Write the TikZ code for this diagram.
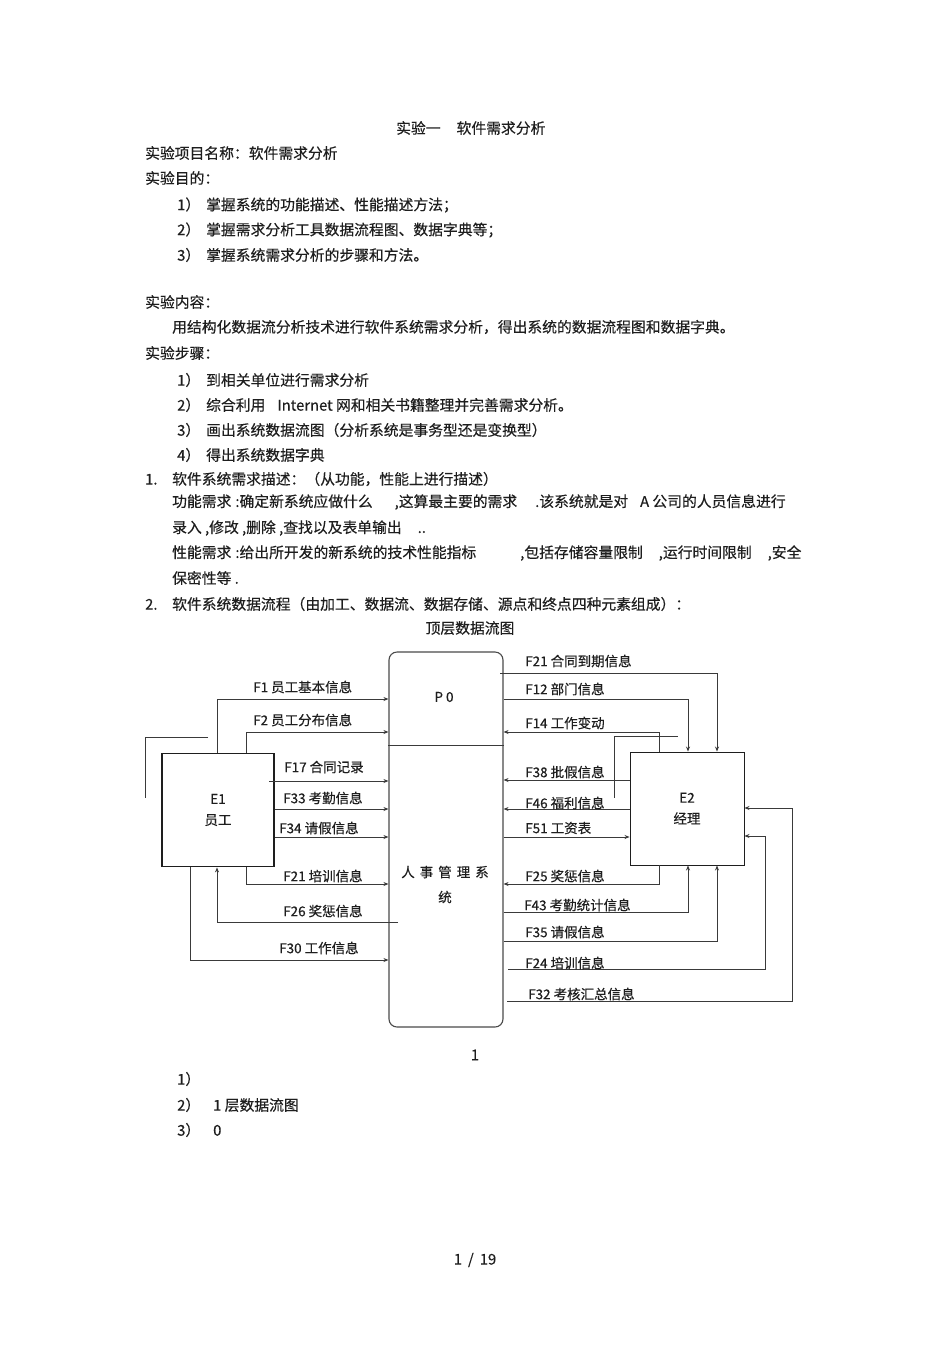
\documentclass[tikz,border=0pt]{standalone}
\usepackage{fontspec}
\setmainfont{Noto Sans CJK SC}[FakeBold=0.35]
\usepackage{tikz}
\usepackage{xcolor}
\usetikzlibrary{arrows.meta, positioning}
\definecolor{cink}{HTML}{1E1E1E}
\definecolor{cline}{HTML}{3A3A3A}
\definecolor{cbox}{HTML}{4A4A4A}
\newcommand{\itemno}[2][29pt]{\makebox[#1][l]{#2}}
\tikzset{
  txt/.style={anchor=west, inner sep=0pt, text=cink,
    font=\fontsize{14.8}{17}\selectfont},
  lbl/.style={anchor=west, inner sep=0pt, text=cink,
    font=\fontsize{13.5}{16}\selectfont},
  ent/.style={draw=cink, line width=#1,
    minimum width=112pt, minimum height=113pt,
    align=center, text=cink, font=\fontsize{13.5}{21}\selectfont},
  proc/.style={draw=cbox, rounded corners=8pt, line width=1.1pt,
    minimum width=114pt, minimum height=375pt},
  arr/.style={-{Stealth[length=5pt,width=4pt]},
    line width=1pt, color=cline},
  wire/.style={line width=1pt, color=cline},
}

\begin{document}
\begin{tikzpicture}[x=1pt, y=-1pt]

\fill[white] (0,0) rectangle (950,1345);
\useasboundingbox (0,0) rectangle (950,1345);

%% ── HEADER ────────────────────────────────────────────────
\node[txt] (title) at (396,128) {实验一\hspace{16pt}软件需求分析};
\node[txt] (pname) at (145,153) {实验项目名称：软件需求分析};
\node[txt] (aim)   at (145,178) {实验目的：};
\node[txt] (aimA)  at (177,205) {\itemno{1）}掌握系统的功能描述、性能描述方法；};
\node[txt] (aimB)  at (177,230) {\itemno{2）}掌握需求分析工具数据流程图、数据字典等；};
\node[txt] (aimC)  at (177,255) {\itemno{3）}掌握系统需求分析的步骤和方法。};

%% ── CONTENT / STEPS ───────────────────────────────────────
\node[txt] (cont)  at (145,302) {实验内容：};
\node[txt] (contB) at (172,327)
  {用结构化数据流分析技术进行软件系统需求分析，得出系统的数据流程图和数据字典。};
\node[txt] (steps) at (145,353) {实验步骤：};
\node[txt] (stepA) at (177,380) {\itemno{1）}到相关单位进行需求分析};
\node[txt] (stepB) at (177,405)
  {\itemno{2）}综合利用\hspace{12pt}Internet 网和相关书籍整理并完善需求分析。};
\node[txt] (stepC) at (177,430) {\itemno{3）}画出系统数据流图（分析系统是事务型还是变换型）};
\node[txt] (stepD) at (177,455) {\itemno{4）}得出系统数据字典};

%% ── REQUIREMENTS ──────────────────────────────────────────
\node[txt] (req)   at (145,479) {\itemno[27pt]{1.}软件系统需求描述：（从功能，性能上进行描述）};
\node[txt] (funA)  at (172,502) {功能需求\hspace{4pt}:确定新系统应做什么\hspace{22pt},这算最主要的需求\hspace{18pt}.该系统就是对\hspace{12pt}A 公司的人员信息进行};
\node[txt] (funB)  at (172,528) {录入 ,修改 ,删除 ,查找以及表单输出\hspace{16pt}..};
\node[txt] (perfA) at (172,553) {性能需求\hspace{4pt}:给出所开发的新系统的技术性能指标\hspace{44pt},包括存储容量限制\hspace{16pt},运行时间限制\hspace{16pt},安全};
\node[txt] (perfB) at (172,578) {保密性等 .};
\node[txt] (dfd)   at (145,604) {\itemno[27pt]{2.}软件系统数据流程（由加工、数据流、数据存储、源点和终点四种元素组成）：};
\node[txt, anchor=center] (dfdT) at (470,628) {顶层数据流图};

%% ── DIAGRAM BOXES ─────────────────────────────────────────
\node[ent=1.8pt] (e1) at (218,810) {E1\\员工};
\node[ent=0.9pt, minimum width=114pt] (e2) at (687,808.5) {E2\\经理};
\node[proc] (p0) at (446,839.5) {};
\coordinate (yDiv) at (0,745);
\draw[wire] (p0.west |- yDiv) -- (p0.east |- yDiv);
\node[lbl, anchor=center] (p0id) at (444,697) {P\hspace{3pt}0};
\node[lbl, anchor=center, align=center, font=\fontsize{13.5}{25}\selectfont]
  (p0name) at (445,884.5) {人\hspace{5pt}事\hspace{5pt}管\hspace{5pt}理\hspace{5pt}系\\统};

% stacked outlines behind the entities
\draw[wire] ([xshift=47pt,yshift=15pt]e1.north west)
  -| ([xshift=-16pt,yshift=-45pt]e1.north west);
\draw[wire] ([xshift=48pt,yshift=15pt]e2.north west)
  -| ([xshift=-15pt,yshift=-46pt]e2.north west);

%% ── FLOW ROWS AND COLUMNS ─────────────────────────────────
\coordinate (yF1)  at (0,699);
\coordinate (yF2)  at (0,732);
\coordinate (yF33) at (0,809);
\coordinate (yF34) at (0,837);
\coordinate (yF21) at (0,884);
\coordinate (yF30) at (0,960);
\coordinate (yR12) at (0,699);
\coordinate (yR14) at (0,732);
\coordinate (yR38) at (0,780);
\coordinate (yR46) at (0,809);
\coordinate (yR51) at (0,837);
\coordinate (yR25) at (0,884);
\coordinate (yR43) at (0,912);
\coordinate (yR35) at (0,941);
\coordinate (yE24) at (0,836);
\coordinate (yE32) at (0,808);
\coordinate (xA) at (190,0);
\coordinate (xB) at (217,0);
\coordinate (xC) at (246,0);
\coordinate (xD) at (659,0);
\coordinate (xE) at (688,0);
\coordinate (xF) at (717,0);
\coordinate (xG) at (765,0);
\coordinate (xH) at (792,0);
% free line ends
\coordinate (sF17) at (269,781);
\coordinate (sF26) at (398,922);
\coordinate (sR21) at (500,673);
\coordinate (sR24) at (508,969);
\coordinate (sR32) at (507,1001);

%% ── LEFT FLOWS (E1 <-> P0) ────────────────────────────────
\draw[arr] (e1.north -| xB) |- (p0.west |- yF1);
\draw[arr] (e1.north -| xC) |- (p0.west |- yF2);
\draw[arr] (sF17) -- (p0.west |- sF17);
\draw[arr] (e1.east |- yF33) -- (p0.west |- yF33);
\draw[arr] (e1.east |- yF34) -- (p0.west |- yF34);
\draw[arr] (e1.south -| xC) |- (p0.west |- yF21);
\draw[arr] (sF26) -| (e1.south -| xB);
\draw[arr] (e1.south -| xA) |- (p0.west |- yF30);

\node[lbl] (lF1)  at (253,687) {F1\hspace{3pt}员工基本信息};
\node[lbl] (lF2)  at (253,720) {F2\hspace{3pt}员工分布信息};
\node[lbl] (lF17) at (284,767) {F17 合同记录};
\node[lbl] (lF33) at (283,798) {F33 考勤信息};
\node[lbl] (lF34) at (279,828) {F34 请假信息};
\node[lbl] (lF21) at (283,876) {F21 培训信息};
\node[lbl] (lF26) at (283,911) {F26 奖惩信息};
\node[lbl] (lF30) at (279,948) {F30 工作信息};

%% ── RIGHT FLOWS (P0 <-> E2) ───────────────────────────────
\draw[arr] (sR21) -| (e2.north -| xF);
\draw[arr] (p0.east |- yR12) -| (e2.north -| xE);
\draw[arr] (e2.north -| xD) |- (p0.east |- yR14);
\draw[arr] (e2.west |- yR38) -- (p0.east |- yR38);
\draw[arr] (e2.west |- yR46) -- (p0.east |- yR46);
\draw[arr] (p0.east |- yR51) -- (e2.west |- yR51);
\draw[arr] (e2.south -| xD) |- (p0.east |- yR25);
\draw[arr] (p0.east |- yR43) -| (e2.south -| xE);
\draw[arr] (p0.east |- yR35) -| (e2.south -| xF);
\draw[arr] (sR24) -| (xG |- yE24) -- (e2.east |- yE24);
\draw[arr] (sR32) -| (xH |- yE32) -- (e2.east |- yE32);

\node[lbl] (rF21) at (525,661) {F21 合同到期信息};
\node[lbl] (rF12) at (525,689) {F12 部门信息};
\node[lbl] (rF14) at (525,723) {F14 工作变动};
\node[lbl] (rF38) at (525,772) {F38 批假信息};
\node[lbl] (rF46) at (525,803) {F46 福利信息};
\node[lbl] (rF51) at (525,828) {F51 工资表};
\node[lbl] (rF25) at (525,876) {F25 奖惩信息};
\node[lbl] (rF43) at (524,905) {F43 考勤统计信息};
\node[lbl] (rF35) at (525,932) {F35 请假信息};
\node[lbl] (rF24) at (525,963) {F24 培训信息};
\node[lbl] (rF32) at (528,994) {F32 考核汇总信息};

%% ── FOOTER ────────────────────────────────────────────────
\node[txt, anchor=center] (fignum) at (475,1055) {1};
\node[txt] (subA) at (177,1079) {1）};
\node[txt] (subB) at (177,1105) {\itemno[36pt]{2）}1 层数据流图};
\node[txt] (subC) at (177,1130) {\itemno[36pt]{3）}0};
\node[txt, anchor=center] (pageno) at (475,1260) {1\hspace{6pt}/\hspace{6pt}19};

\end{tikzpicture}
\end{document}
